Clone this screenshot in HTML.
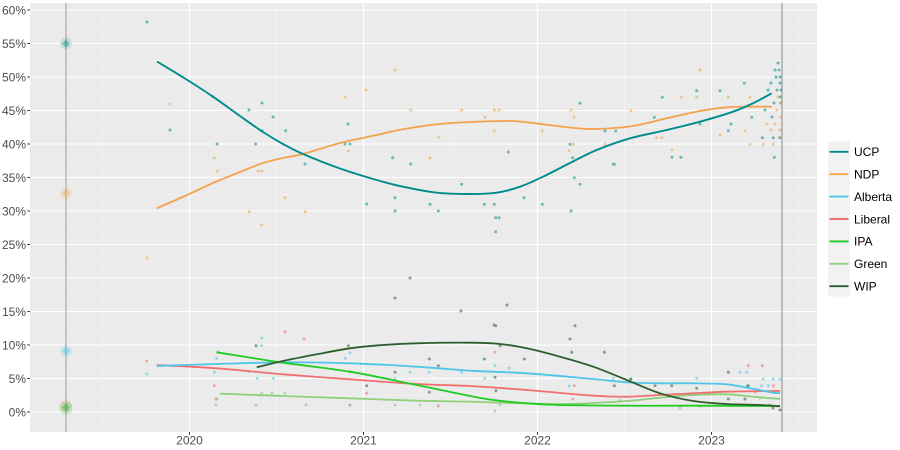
<!DOCTYPE html>
<html><head><meta charset="utf-8"><style>
html,body{margin:0;padding:0;background:#fff;}
svg{display:block;font-family:"Liberation Sans",sans-serif;}
</style></head><body>
<svg id="chart" width="900" height="450" viewBox="0 0 900 450" xmlns="http://www.w3.org/2000/svg">
<rect x="0" y="0" width="900" height="450" fill="#fff"/>
<!-- panel -->
<rect x="30" y="3" width="787" height="429" fill="#ebebeb"/>
<!-- minor grid -->
<g stroke="#f5f5f5" stroke-width="0.6">
<line x1="30" x2="817" y1="26.75" y2="26.75"/><line x1="30" x2="817" y1="60.25" y2="60.25"/><line x1="30" x2="817" y1="93.75" y2="93.75"/><line x1="30" x2="817" y1="127.25" y2="127.25"/><line x1="30" x2="817" y1="160.75" y2="160.75"/><line x1="30" x2="817" y1="194.25" y2="194.25"/><line x1="30" x2="817" y1="227.75" y2="227.75"/><line x1="30" x2="817" y1="261.25" y2="261.25"/><line x1="30" x2="817" y1="294.75" y2="294.75"/><line x1="30" x2="817" y1="328.25" y2="328.25"/><line x1="30" x2="817" y1="361.75" y2="361.75"/><line x1="30" x2="817" y1="395.25" y2="395.25"/><line x1="30" x2="817" y1="428.75" y2="428.75"/>
<line y1="3" y2="432" x1="102.5" x2="102.5"/><line y1="3" y2="432" x1="276.5" x2="276.5"/><line y1="3" y2="432" x1="450.5" x2="450.5"/><line y1="3" y2="432" x1="624.5" x2="624.5"/><line y1="3" y2="432" x1="798.5" x2="798.5"/>
</g>
<!-- major grid -->
<g stroke="#ffffff" stroke-width="1.1">
<line x1="30" x2="817" y1="10" y2="10"/><line x1="30" x2="817" y1="43.5" y2="43.5"/><line x1="30" x2="817" y1="77" y2="77"/><line x1="30" x2="817" y1="110.5" y2="110.5"/><line x1="30" x2="817" y1="144" y2="144"/><line x1="30" x2="817" y1="177.5" y2="177.5"/><line x1="30" x2="817" y1="211" y2="211"/><line x1="30" x2="817" y1="244.5" y2="244.5"/><line x1="30" x2="817" y1="278" y2="278"/><line x1="30" x2="817" y1="311.5" y2="311.5"/><line x1="30" x2="817" y1="345" y2="345"/><line x1="30" x2="817" y1="378.5" y2="378.5"/><line x1="30" x2="817" y1="412" y2="412"/>
<line y1="3" y2="432" x1="189.5" x2="189.5"/><line y1="3" y2="432" x1="363.5" x2="363.5"/><line y1="3" y2="432" x1="537.5" x2="537.5"/><line y1="3" y2="432" x1="711.5" x2="711.5"/>
</g>
<!-- election vertical lines -->
<line x1="66" x2="66" y1="3" y2="432" stroke="#b0b0b0" stroke-width="1.3"/>
<line x1="782" x2="782" y1="3" y2="432" stroke="#8a8a8a" stroke-width="1"/>

<!-- election result blobs -->
<g>
<circle cx="66" cy="43.5" r="6" fill="#008b8b" opacity="0.15"/><path d="M66 39.5 L70 43.5 L66 47.5 L62 43.5Z" fill="#008b8b" opacity="0.45"/>
<circle cx="66" cy="193" r="6" fill="#f4a24c" opacity="0.18"/><path d="M66 189 L70 193 L66 197 L62 193Z" fill="#f4a24c" opacity="0.4"/>
<circle cx="66" cy="351" r="6" fill="#4fc6e8" opacity="0.18"/><path d="M66 347 L70 351 L66 355 L62 351Z" fill="#4fc6e8" opacity="0.45"/>
<circle cx="66" cy="406" r="6" fill="#f07070" opacity="0.18"/>
<circle cx="66" cy="408" r="6.5" fill="#22cc22" opacity="0.22"/><path d="M66 403 L70 407.5 L66 412 L62 407.5Z" fill="#3cb043" opacity="0.5"/>
</g>

<!-- scatter points -->
<g fill="#008b8b" opacity="0.55">
<circle cx="147" cy="22" r="1.5"/><circle cx="170" cy="130" r="1.5"/><circle cx="213" cy="96.7" r="1.5"/><circle cx="217" cy="144" r="1.5"/><circle cx="249" cy="110" r="1.5"/><circle cx="262" cy="103" r="1.5"/><circle cx="273" cy="117" r="1.5"/><circle cx="262" cy="130.7" r="1.5"/><circle cx="285.7" cy="130.7" r="1.5"/><circle cx="255.7" cy="144" r="1.5"/><circle cx="305" cy="164" r="1.5"/><circle cx="345" cy="144" r="1.5"/><circle cx="350" cy="144" r="1.5"/><circle cx="348" cy="124" r="1.5"/><circle cx="366.7" cy="204" r="1.5"/>
<circle cx="392.7" cy="157.7" r="1.5"/><circle cx="410.7" cy="164" r="1.5"/><circle cx="395" cy="197.7" r="1.5"/><circle cx="395" cy="211" r="1.5"/><circle cx="430" cy="204.3" r="1.5"/><circle cx="438.3" cy="211" r="1.5"/><circle cx="461.7" cy="184.3" r="1.5"/><circle cx="484.3" cy="204.3" r="1.5"/><circle cx="494.3" cy="204.3" r="1.5"/><circle cx="495.7" cy="217.7" r="1.5"/><circle cx="499" cy="217.7" r="1.5"/><circle cx="495.7" cy="231.7" r="1.5"/><circle cx="508.3" cy="152" r="1.5"/><circle cx="524" cy="197.7" r="1.5"/><circle cx="542.3" cy="204.3" r="1.5"/><circle cx="571" cy="211" r="1.5"/><circle cx="570" cy="144.3" r="1.5"/><circle cx="572.7" cy="157.7" r="1.5"/><circle cx="574.3" cy="177.7" r="1.5"/><circle cx="580" cy="184.3" r="1.5"/><circle cx="580" cy="103.3" r="1.5"/><circle cx="605" cy="131" r="1.5"/><circle cx="614.3" cy="164.3" r="1.5"/><circle cx="615.7" cy="131" r="1.5"/>
<circle cx="672" cy="157.3" r="1.5"/><circle cx="681" cy="157.3" r="1.5"/><circle cx="613.3" cy="164.3" r="1.5"/><circle cx="662.3" cy="97.3" r="1.5"/><circle cx="696.7" cy="90.7" r="1.5"/><circle cx="720" cy="90.7" r="1.5"/><circle cx="744.3" cy="83.3" r="1.5"/><circle cx="654.3" cy="117.3" r="1.5"/><circle cx="700" cy="124" r="1.5"/><circle cx="728.3" cy="130.7" r="1.5"/><circle cx="731" cy="124" r="1.5"/><circle cx="751.7" cy="117.3" r="1.5"/><circle cx="762.3" cy="137.7" r="1.5"/><circle cx="773.3" cy="137.7" r="1.5"/><circle cx="780" cy="137.7" r="1.5"/><circle cx="774.3" cy="157.3" r="1.5"/>
<circle cx="778" cy="63" r="1.5"/><circle cx="775" cy="70" r="1.5"/><circle cx="779" cy="70" r="1.5"/><circle cx="780" cy="77" r="1.5"/><circle cx="776" cy="77" r="1.5"/><circle cx="771" cy="83" r="1.5"/><circle cx="780" cy="83" r="1.5"/><circle cx="777" cy="90" r="1.5"/><circle cx="781" cy="90" r="1.5"/><circle cx="768" cy="90" r="1.5"/><circle cx="780" cy="97" r="1.5"/><circle cx="774" cy="103" r="1.5"/><circle cx="781" cy="103" r="1.5"/><circle cx="765" cy="110" r="1.5"/><circle cx="772" cy="117" r="1.5"/>
</g>
<g fill="#f4a24c" opacity="0.55">
<circle cx="147" cy="258" r="1.5"/><circle cx="170" cy="104" r="1.5"/><circle cx="214.3" cy="157.7" r="1.5"/><circle cx="217.3" cy="171" r="1.5"/><circle cx="249" cy="211.7" r="1.5"/><circle cx="261.7" cy="225" r="1.5"/><circle cx="285" cy="197.7" r="1.5"/><circle cx="305" cy="211.7" r="1.5"/><circle cx="345" cy="97.3" r="1.5"/><circle cx="366" cy="90" r="1.5"/><circle cx="348.3" cy="151" r="1.5"/><circle cx="258.3" cy="171" r="1.5"/><circle cx="262" cy="171" r="1.5"/>
<circle cx="395" cy="70" r="1.5"/><circle cx="410.7" cy="110" r="1.5"/><circle cx="461.7" cy="110" r="1.5"/><circle cx="494.3" cy="110" r="1.5"/><circle cx="499" cy="110" r="1.5"/><circle cx="494.3" cy="130.7" r="1.5"/><circle cx="438.3" cy="137.3" r="1.5"/><circle cx="430" cy="157.7" r="1.5"/><circle cx="542.3" cy="130.7" r="1.5"/><circle cx="571" cy="110" r="1.5"/><circle cx="574" cy="117.3" r="1.5"/><circle cx="573.3" cy="144.3" r="1.5"/><circle cx="569" cy="150.7" r="1.5"/><circle cx="605" cy="144.3" r="1.5"/><circle cx="485" cy="117.3" r="1.5"/>
<circle cx="700" cy="70" r="1.5"/><circle cx="681.7" cy="97.3" r="1.5"/><circle cx="696.7" cy="97.3" r="1.5"/><circle cx="631" cy="110.7" r="1.5"/><circle cx="728.3" cy="97.3" r="1.5"/><circle cx="750" cy="97.3" r="1.5"/><circle cx="750" cy="144.3" r="1.5"/><circle cx="720" cy="135" r="1.5"/><circle cx="745" cy="130.7" r="1.5"/><circle cx="656.7" cy="137.7" r="1.5"/><circle cx="661.7" cy="137.7" r="1.5"/><circle cx="763.3" cy="144.3" r="1.5"/><circle cx="773.3" cy="144.3" r="1.5"/>
<circle cx="778" cy="97" r="1.5"/><circle cx="781" cy="103" r="1.5"/><circle cx="777" cy="110" r="1.5"/><circle cx="781" cy="117" r="1.5"/><circle cx="775" cy="124" r="1.5"/><circle cx="780" cy="130" r="1.5"/><circle cx="771" cy="130" r="1.5"/><circle cx="779" cy="137" r="1.5"/><circle cx="767" cy="124" r="1.5"/><circle cx="672" cy="150" r="1.5"/>
</g>
<g fill="#4fc6e8" opacity="0.55">
<circle cx="216.7" cy="358.3" r="1.5"/><circle cx="214.3" cy="372.3" r="1.5"/><circle cx="261.7" cy="338.3" r="1.5"/><circle cx="261.7" cy="345.7" r="1.5"/><circle cx="249" cy="371.7" r="1.5"/><circle cx="257.3" cy="378.3" r="1.5"/><circle cx="273.3" cy="378.3" r="1.5"/><circle cx="345" cy="358.3" r="1.5"/><circle cx="350" cy="352.7" r="1.5"/><circle cx="395" cy="378.3" r="1.5"/><circle cx="410" cy="372.3" r="1.5"/><circle cx="429.3" cy="372.3" r="1.5"/><circle cx="461.7" cy="372.3" r="1.5"/>
<circle cx="495" cy="365.7" r="1.5"/><circle cx="509" cy="368.3" r="1.5"/><circle cx="484.7" cy="378.3" r="1.5"/><circle cx="569.3" cy="386" r="1.5"/><circle cx="613.3" cy="378.3" r="1.5"/><circle cx="631" cy="379" r="1.5"/><circle cx="696.7" cy="378.3" r="1.5"/><circle cx="740" cy="372.3" r="1.5"/><circle cx="746.7" cy="372.3" r="1.5"/><circle cx="763.3" cy="379" r="1.5"/><circle cx="773.3" cy="379" r="1.5"/><circle cx="747.3" cy="385.7" r="1.5"/><circle cx="761.7" cy="385.7" r="1.5"/><circle cx="768.3" cy="385.7" r="1.5"/><circle cx="146.7" cy="374" r="1.5"/><circle cx="780" cy="379" r="1.5"/>
</g>
<g fill="#f07070" opacity="0.55">
<circle cx="146.7" cy="361" r="1.5"/><circle cx="214.3" cy="385.7" r="1.5"/><circle cx="285" cy="331.7" r="1.5"/><circle cx="304.3" cy="339" r="1.5"/><circle cx="366.7" cy="393.3" r="1.5"/><circle cx="438.3" cy="405.7" r="1.5"/><circle cx="495" cy="352.3" r="1.5"/><circle cx="574.3" cy="385.7" r="1.5"/><circle cx="748.3" cy="365.7" r="1.5"/><circle cx="762.3" cy="365.7" r="1.5"/><circle cx="773.3" cy="385.7" r="1.5"/><circle cx="572.7" cy="399" r="1.5"/><circle cx="216" cy="399" r="1.5"/><circle cx="755" cy="392" r="1.5"/>
</g>
<g fill="#22cc22" opacity="0.55">
<circle cx="217.7" cy="352.3" r="1.5"/><circle cx="350" cy="372" r="1.5"/><circle cx="560" cy="405" r="1.5"/><circle cx="700" cy="406" r="1.5"/><circle cx="770" cy="405" r="1.5"/>
</g>
<g fill="#8fd07c" opacity="0.6">
<circle cx="217.3" cy="399" r="1.5"/><circle cx="261.7" cy="393.3" r="1.5"/><circle cx="271.7" cy="393.3" r="1.5"/><circle cx="285" cy="393.3" r="1.5"/><circle cx="350" cy="405" r="1.5"/><circle cx="420" cy="405" r="1.5"/><circle cx="500" cy="405" r="1.5"/><circle cx="620" cy="400" r="1.5"/><circle cx="760" cy="398" r="1.5"/>
</g>
<g fill="#2d5e2d" opacity="0.55">
<circle cx="256" cy="345.7" r="1.5"/><circle cx="348.3" cy="345.7" r="1.5"/><circle cx="366.7" cy="385.7" r="1.5"/><circle cx="395" cy="372.3" r="1.5"/><circle cx="429.3" cy="359" r="1.5"/><circle cx="438.3" cy="365.7" r="1.5"/><circle cx="429.3" cy="392.3" r="1.5"/>
<circle cx="495.7" cy="325.7" r="1.5"/><circle cx="575" cy="325.7" r="1.5"/><circle cx="570" cy="339" r="1.5"/><circle cx="500" cy="345.7" r="1.5"/><circle cx="484.3" cy="359" r="1.5"/><circle cx="524.3" cy="359" r="1.5"/><circle cx="571.7" cy="352.3" r="1.5"/><circle cx="604.3" cy="352.3" r="1.5"/><circle cx="495" cy="377.3" r="1.5"/><circle cx="496" cy="390.7" r="1.5"/><circle cx="614.3" cy="385.7" r="1.5"/><circle cx="630.7" cy="379" r="1.5"/><circle cx="655" cy="385.7" r="1.5"/><circle cx="671.7" cy="385.7" r="1.5"/><circle cx="696.7" cy="388.3" r="1.5"/><circle cx="728.3" cy="372.3" r="1.5"/><circle cx="728.3" cy="399" r="1.5"/><circle cx="745" cy="399" r="1.5"/><circle cx="748.3" cy="385.7" r="1.5"/><circle cx="780" cy="410" r="1.5"/>
<circle cx="395" cy="298" r="1.5"/><circle cx="410" cy="278" r="1.5"/><circle cx="507" cy="305" r="1.5"/><circle cx="494" cy="325" r="1.5"/><circle cx="461" cy="311" r="1.5"/><circle cx="773" cy="408" r="1.5"/>
</g>
<g fill="#999" opacity="0.5">
<circle cx="216" cy="405" r="1.4"/><circle cx="256" cy="405" r="1.4"/><circle cx="306" cy="405" r="1.4"/><circle cx="350" cy="405" r="1.4"/><circle cx="395" cy="405" r="1.4"/><circle cx="495" cy="411" r="1.4"/><circle cx="680" cy="408" r="1.4"/>
</g>

<!-- smooth lines -->
<g id="lines" fill="none" stroke-linejoin="round" stroke-linecap="butt">
<polyline stroke="#f4a24c" stroke-width="1.8" points="156.7,208.3 185,196 213,183 240,172 263,163 283,158 303,154 340,143 376.7,135 403,129.3 436.7,124.3 470,122 510,121 530,122.7 556.7,126 583,128.7 603,128.7 633,126 666.7,118.3 700,111 726.7,107.3 750,106.7 771.7,106.7"/>
<polyline stroke="#008b8b" stroke-width="1.9" points="157,61.5 185,78.5 213,96.7 240,116 263,132 283,144 303,154 340,168.5 376.7,180 403,186.7 436.7,192.7 470,194 496.7,192.7 520,186.7 543,176.7 570,163 596.7,150 630,138.3 666.7,130 700,121.7 733,111.7 753,103.3 771.7,93.3"/>
<polyline stroke="#8fd07c" stroke-width="1.8" points="220,393.7 283,396 350,398.3 416.7,400.7 470,401.7 560,404 626.7,401 660,397.7 693.3,395 726.7,394.3 753.3,396.7 780,399"/>
<polyline stroke="#f07070" stroke-width="1.8" points="156.7,365 216.7,368.3 283,374.3 350,379.3 416.7,384 470,386 526.7,390 593.3,395.7 626.7,396.7 660,395 693.3,393.3 726.7,391.7 773.3,391 780,391"/>
<polyline stroke="#4fc6e8" stroke-width="1.8" points="156.7,366 216.7,364 283,362.3 350,363.3 416.7,366.7 470,370.7 526.7,373.3 593.3,379 626.7,382.3 660,383.3 693.3,383.3 726.7,384.3 750,388.3 773.3,392.7 780,393"/>
<polyline stroke="#1fcc1f" stroke-width="1.8" points="216.7,352.3 283,362.7 350,371.7 416.7,385 470,396 493.3,400 526.7,403.3 560,405 626.7,405.7 693.3,405.7 780,406"/>
<polyline stroke="#2d5e2d" stroke-width="1.8" points="256.7,367.3 283,361 316.7,354.3 350,348.3 383,345 416.7,343.3 470,342.7 500,344 526.7,348.3 560,356.7 593.3,366.7 626.7,380 660,393.3 693.3,401 726.7,404 760,405 780,406.3"/>
</g>

<!-- axes ticks -->
<g stroke="#333" stroke-width="1">
<line x1="27.3" x2="30" y1="10" y2="10"/><line x1="27.3" x2="30" y1="43.5" y2="43.5"/><line x1="27.3" x2="30" y1="77" y2="77"/><line x1="27.3" x2="30" y1="110.5" y2="110.5"/><line x1="27.3" x2="30" y1="144" y2="144"/><line x1="27.3" x2="30" y1="177.5" y2="177.5"/><line x1="27.3" x2="30" y1="211" y2="211"/><line x1="27.3" x2="30" y1="244.5" y2="244.5"/><line x1="27.3" x2="30" y1="278" y2="278"/><line x1="27.3" x2="30" y1="311.5" y2="311.5"/><line x1="27.3" x2="30" y1="345" y2="345"/><line x1="27.3" x2="30" y1="378.5" y2="378.5"/><line x1="27.3" x2="30" y1="412" y2="412"/>
<line y1="432" y2="434.7" x1="189.5" x2="189.5"/><line y1="432" y2="434.7" x1="363.5" x2="363.5"/><line y1="432" y2="434.7" x1="537.5" x2="537.5"/><line y1="432" y2="434.7" x1="711.5" x2="711.5"/>
</g>
<g fill="#4d4d4d" font-size="12" text-anchor="end">
<text x="26" y="14.3">60%</text><text x="26" y="47.8">55%</text><text x="26" y="81.3">50%</text><text x="26" y="114.8">45%</text><text x="26" y="148.3">40%</text><text x="26" y="181.8">35%</text><text x="26" y="215.3">30%</text><text x="26" y="248.8">25%</text><text x="26" y="282.3">20%</text><text x="26" y="315.8">15%</text><text x="26" y="349.3">10%</text><text x="26" y="382.8">5%</text><text x="26" y="416.3">0%</text>
</g>
<g fill="#4d4d4d" font-size="12" text-anchor="middle">
<text x="189.5" y="444.5">2020</text><text x="363.5" y="444.5">2021</text><text x="537.5" y="444.5">2022</text><text x="711.5" y="444.5">2023</text>
</g>

<!-- legend -->
<rect x="828" y="141.5" width="22" height="155" fill="#f2f2f2"/>
<g stroke-width="1.9">
<line x1="829.5" x2="848.5" y1="151.8" y2="151.8" stroke="#008b8b"/>
<line x1="829.5" x2="848.5" y1="174.2" y2="174.2" stroke="#f4a24c"/>
<line x1="829.5" x2="848.5" y1="196.6" y2="196.6" stroke="#4fc6e8"/>
<line x1="829.5" x2="848.5" y1="219" y2="219" stroke="#f07070"/>
<line x1="829.5" x2="848.5" y1="241.4" y2="241.4" stroke="#1fcc1f"/>
<line x1="829.5" x2="848.5" y1="263.8" y2="263.8" stroke="#8fd07c"/>
<line x1="829.5" x2="848.5" y1="286.2" y2="286.2" stroke="#2d5e2d"/>
</g>
<g fill="#000" font-size="12">
<text x="854" y="156.1">UCP</text>
<text x="854" y="178.5">NDP</text>
<text x="854" y="200.9">Alberta</text>
<text x="854" y="223.3">Liberal</text>
<text x="854" y="245.7">IPA</text>
<text x="854" y="268.1">Green</text>
<text x="854" y="290.5">WIP</text>
</g>
</svg>
<script>
(function(){
  var ns="http://www.w3.org/2000/svg";
  var pls=document.querySelectorAll("#lines polyline");
  for(var i=0;i<pls.length;i++){
    var pl=pls[i];
    var pts=pl.getAttribute("points").trim().split(/\s+/).map(function(s){var a=s.split(",");return [parseFloat(a[0]),parseFloat(a[1])];});
    if(pts.length<3) continue;
    var d="M"+pts[0][0]+" "+pts[0][1];
    for(var k=0;k<pts.length-1;k++){
      var p0=pts[k>0?k-1:0],p1=pts[k],p2=pts[k+1],p3=pts[k+2<pts.length?k+2:pts.length-1];
      var c1x=p1[0]+(p2[0]-p0[0])/6,c1y=p1[1]+(p2[1]-p0[1])/6;
      var c2x=p2[0]-(p3[0]-p1[0])/6,c2y=p2[1]-(p3[1]-p1[1])/6;
      d+=" C"+c1x.toFixed(2)+" "+c1y.toFixed(2)+" "+c2x.toFixed(2)+" "+c2y.toFixed(2)+" "+p2[0]+" "+p2[1];
    }
    var path=document.createElementNS(ns,"path");
    path.setAttribute("d",d);
    path.setAttribute("stroke",pl.getAttribute("stroke"));
    path.setAttribute("stroke-width",pl.getAttribute("stroke-width"));
    path.setAttribute("fill","none");
    pl.parentNode.replaceChild(path,pl);
  }
})();
</script>
</body></html>
